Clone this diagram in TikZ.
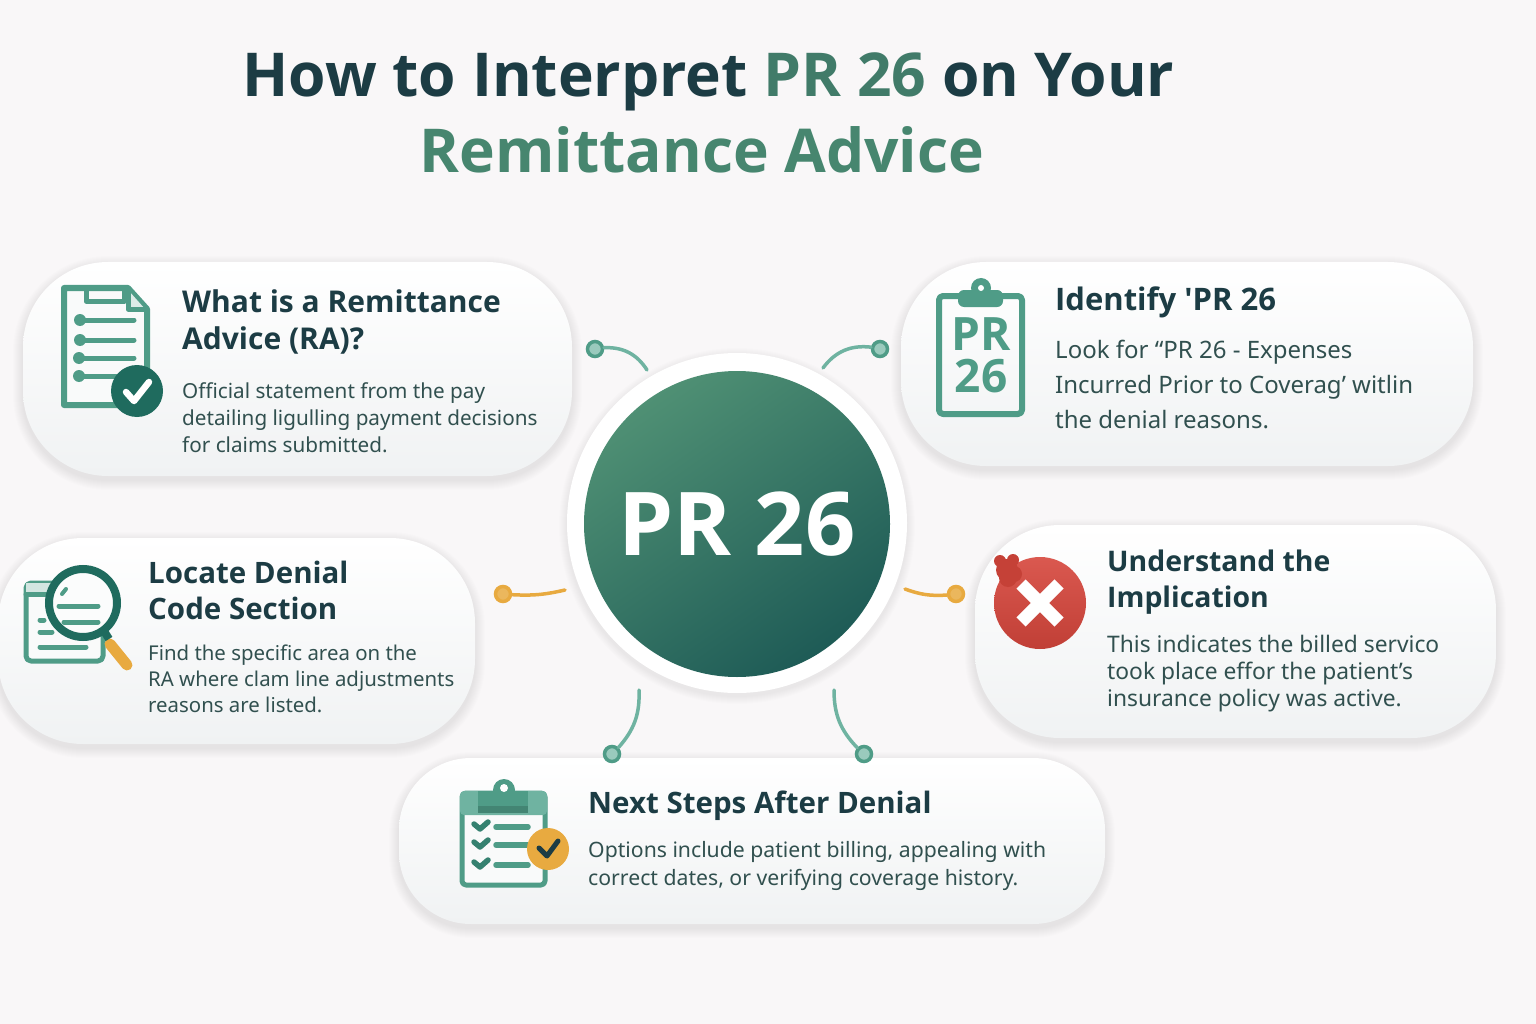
\documentclass[tikz,border=0pt]{standalone}
\usepackage{fontspec}
\setmainfont{Noto Sans}
\newfontfamily\headfont{Open Sans}
\usetikzlibrary{positioning}
\definecolor{pagebg}{HTML}{F9F7F8}
\definecolor{cardbot}{HTML}{F0F2F3}
\definecolor{inkdark}{HTML}{1C3C44}
\definecolor{inkbody}{HTML}{31504F}
\definecolor{titlegreen}{HTML}{47866F}
\definecolor{iconteal}{HTML}{4F9C87}
\definecolor{icondark}{HTML}{1F6B5E}
\definecolor{linkteal}{HTML}{6FB3A1}
\definecolor{amber}{HTML}{E8AA40}
\definecolor{redmark}{HTML}{D6463C}
\definecolor{hubtop}{HTML}{4F9074}
\definecolor{hubbot}{HTML}{1E5B56}
\tikzset{
    x=1pt, y=-1pt,
    % Stile per i riquadri
    card/.style={rectangle, rounded corners=#1, top color=white, bottom color=cardbot,
                 inner sep=0pt},
    cardhead/.style={align=left, inner sep=0pt, text=inkdark,
                     font=\headfont\fontsize{29.5}{37}\selectfont\bfseries},
    cardbody/.style={align=left, inner sep=0pt, text=inkbody,
                     font=\fontsize{20.7}{27}\selectfont},
    titleline/.style={anchor=base, inner sep=0pt,
                      font=\headfont\fontsize{60.5}{70}\selectfont\bfseries},
    % Stile per i connettori
    tealdot/.style={circle, draw=iconteal, fill=linkteal!70, line width=3.5pt,
                    minimum size=15pt, inner sep=0pt},
    amberdot/.style={circle, draw=amber, fill=amber!85, line width=3.5pt,
                     minimum size=15pt, inner sep=0pt},
    teallink/.style={draw=linkteal, line width=3.5pt, line cap=round},
    amberlink/.style={draw=amber, line width=3.5pt, line cap=round},
    % Stile per le icone
    iconline/.style={draw=iconteal, line width=6pt, line cap=round, line join=round},
    iconrule/.style={draw=iconteal, line width=5pt, line cap=round},
    tick/.style={draw=white, line width=6.5pt, line cap=round, line join=round}
}
\begin{document}
\begin{tikzpicture}
  \useasboundingbox (0,0) rectangle (1536,1024);
  \fill[pagebg] (0,0) rectangle (1536,1024);

  % riquadri con ombra
  \foreach \cardname/\cardx/\cardy/\cardw/\cardh/\cardr in {
      whatcard/297.5/369/549/214/85,
      idcard/1187/364/572/204/85,
      locatecard/236.5/641/477/206/85,
      implycard/1235.5/631.5/521/213/85,
      nextcard/752/841/706/166/72}{
    \foreach \g in {1,...,10}
      \fill[black, opacity=0.009, rounded corners=\cardr pt+\g pt]
        (\cardx-\cardw/2-\g, \cardy-\cardh/2-\g+4) rectangle (\cardx+\cardw/2+\g, \cardy+\cardh/2+\g+4);
    \node[card=\cardr pt, minimum width=\cardw pt, minimum height=\cardh pt] (\cardname) at (\cardx,\cardy) {};
  }

  % titolo
  \node[titleline, text=inkdark]
    (titleone) at (708.5,97) {How to Interpret \textcolor{titlegreen!85!inkdark}{PR 26} on Your};
  \node[titleline, text=titlegreen]
    (titletwo) at (702,173) {Remittance Advice};

  % cerchio centrale
  \foreach \g in {1,...,8}
    \fill[black, opacity=0.008] (737,526) circle ({170+\g});
  \node[circle, fill=white, minimum size=340pt, inner sep=0pt] (hubring) at (737,523) {};
  \node[circle, top color=hubtop, bottom color=hubbot, shading angle=35, minimum size=306pt,
        inner sep=0pt, text=white, font=\headfont\fontsize{88}{90}\selectfont\bfseries]
    (hub) at (737,524) {PR 26};

  % connettori
  \node[tealdot] (dotwhat) at (595,349) {};
  \node[tealdot] (dotid) at (880,349) {};
  \node[amberdot] (dotlocate) at (503,594) {};
  \node[amberdot] (dotimply) at (956,594) {};
  \node[tealdot] (dotstepa) at (612,754) {};
  \node[tealdot] (dotstepb) at (864,754) {};
  \coordinate (endwhat) at (647,370);
  \coordinate (endid) at (823,368);
  \coordinate (endlocate) at (565,590);
  \coordinate (endimply) at (905,589);
  \coordinate (endstepa) at (639,690);
  \coordinate (endstepb) at (834,690);
  \draw[teallink] (dotwhat) to[bend left=30] (endwhat);
  \draw[teallink] (dotid) to[bend right=30] (endid);
  \draw[amberlink] (dotlocate) to[bend right=8] (endlocate);
  \draw[amberlink] (dotimply) to[bend left=12] (endimply);
  \draw[teallink] (dotstepa) to[bend right=22] (endstepa);
  \draw[teallink] (dotstepb) to[bend left=22] (endstepb);

  % icona documento
  \filldraw[iconline, fill=white!60!cardbot] (64,288) -- (128,288) -- (147,309) -- (147,405) -- (64,405) -- cycle;
  \fill[white!80!iconteal] (129,291) -- (129,309) -- (145,309) -- cycle;
  \draw[iconline, line width=5pt] (128,288) -- (128,309) -- (147,309);
  \draw[iconline, line width=5pt] (86,288) rectangle (124,301);
  \foreach \ly/\lx in {320/80,340/80,358/79,376/79} {
    \fill[iconteal] (\lx,\ly) circle (6);
    \draw[iconrule, line width=5pt] (\lx,\ly) -- (134,\ly);
  }
  \fill[icondark] (137,391) circle (26);
  \draw[tick] (126,392) -- (134,401) -- (149,382);

  % icona appunti con codice
  \draw[iconline, rounded corners=4pt] (939,296) rectangle (1022,414);
  \fill[iconteal] (981,288) circle (10);
  \fill[iconteal, rounded corners=6pt] (958,290) rectangle (1003,307);
  \fill[white] (981,288) circle (3);
  \node[inner sep=0pt, align=center, text=iconteal, font=\headfont\fontsize{46}{42}\selectfont\bfseries]
    (idicon) at (981,355) {PR\\26};

  % icona lente
  \filldraw[iconline, line width=5pt, fill=white!60!cardbot, rounded corners=5pt] (26,583) rectangle (103,661);
  \draw[iconrule] (26,594) -- (60,594);
  \fill[white!75!iconteal] (26,583) rectangle (60,592);
  \draw[iconrule] (40,620) -- (44,620);
  \draw[iconrule] (40,632) -- (52,632);
  \draw[iconrule] (40,647) -- (86,647);
  \draw[amber, line width=11pt, line cap=round] (110,644) -- (127,665);
  \filldraw[draw=icondark, fill=white!75!cardbot, line width=8pt] (83,603) circle (34);
  \draw[icondark, line width=8pt] (104,631) -- (109,639);
  \draw[iconrule, line width=4pt] (62,594) -- (66,589);
  \draw[iconrule] (59,606) -- (98,606);
  \draw[iconrule] (64,622) -- (98,622);

  % icona errore
  \shade[top color=redmark!90!white, bottom color=redmark!90!black] (1040,603) circle (46);
  \fill[redmark!92!black] (1007,570) circle (11) (1014,574) circle (8) (1008,578) circle (9) (1013,560) circle (6) (1000,561) circle (6);
  \draw[white, line width=13pt] (1021,584) -- (1059,622) (1059,584) -- (1021,622);

  % icona lista
  \filldraw[iconline, line width=5pt, fill=white!60!cardbot, rounded corners=4pt] (462,793) rectangle (545,885);
  \fill[linkteal, rounded corners=4pt] (460,791) rectangle (547,815);
  \fill[iconteal!85!black] (478,806) rectangle (528,813);
  \fill[iconteal] (504,790) circle (11);
  \fill[iconteal] (478,791) rectangle (528,806);
  \fill[white] (504,788) circle (4);
  \foreach \ly in {827,845,865} {
    \draw[iconline, line width=5.5pt, draw=icondark!55!iconteal] (474,\ly-3) -- (480,\ly+2) -- (488,\ly-5);
    \draw[iconrule, line width=5.5pt] (496,\ly) -- (528,\ly);
  }
  \fill[amber] (548,849) circle (21);
  \draw[tick, draw=inkdark, line width=5pt] (539,848) -- (547,856) -- (558,841);

  % testi
  \node[cardhead, anchor=north west, font=\headfont\fontsize{30}{37}\selectfont\bfseries] (whathead) at (182,290) {What is a Remittance\\Advice (RA)?};
  \node[cardbody, below=28pt of whathead.south west, anchor=north west] (whatbody)
    {Official statement from the pay\\detailing ligulling payment decisions\\for claims submitted.};
  \node[cardhead, anchor=north west, font=\headfont\fontsize{31}{37}\selectfont\bfseries] (idhead) at (1055,287) {Identify 'PR 26};
  \node[cardbody, below=21pt of idhead.south west, anchor=north west,
        font=\fontsize{24}{35}\selectfont] (idbody)
    {Look for “PR 26 - Expenses\\Incurred Prior to Coverag' witlin\\the denial reasons.};
  \node[cardhead, anchor=north west, font=\headfont\fontsize{29.5}{36}\selectfont\bfseries] (locatehead) at (148,561) {Locate Denial\\Code Section};
  \node[cardbody, below=25pt of locatehead.south west, anchor=north west, font=\fontsize{20.4}{26}\selectfont] (locatebody)
    {Find the specific area on the\\RA where clam line adjustments\\reasons are listed.};
  \node[cardhead, anchor=north west, font=\headfont\fontsize{28.4}{36}\selectfont\bfseries] (implyhead) at (1107,550) {Understand the\\Implication};
  \node[cardbody, below=20pt of implyhead.south west, anchor=north west, font=\fontsize{22.8}{27}\selectfont] (implybody)
    {This indicates the billed servico\\took place effor the patient's\\insurance policy was active.};
  \node[cardhead, anchor=north west] (nexthead) at (588,791) {Next Steps After Denial};
  \node[cardbody, below=20pt of nexthead.south west, anchor=north west, font=\fontsize{21.2}{28}\selectfont] (nextbody)
    {Options include patient billing, appealing with\\correct dates, or verifying coverage history.};
\end{tikzpicture}
\end{document}
